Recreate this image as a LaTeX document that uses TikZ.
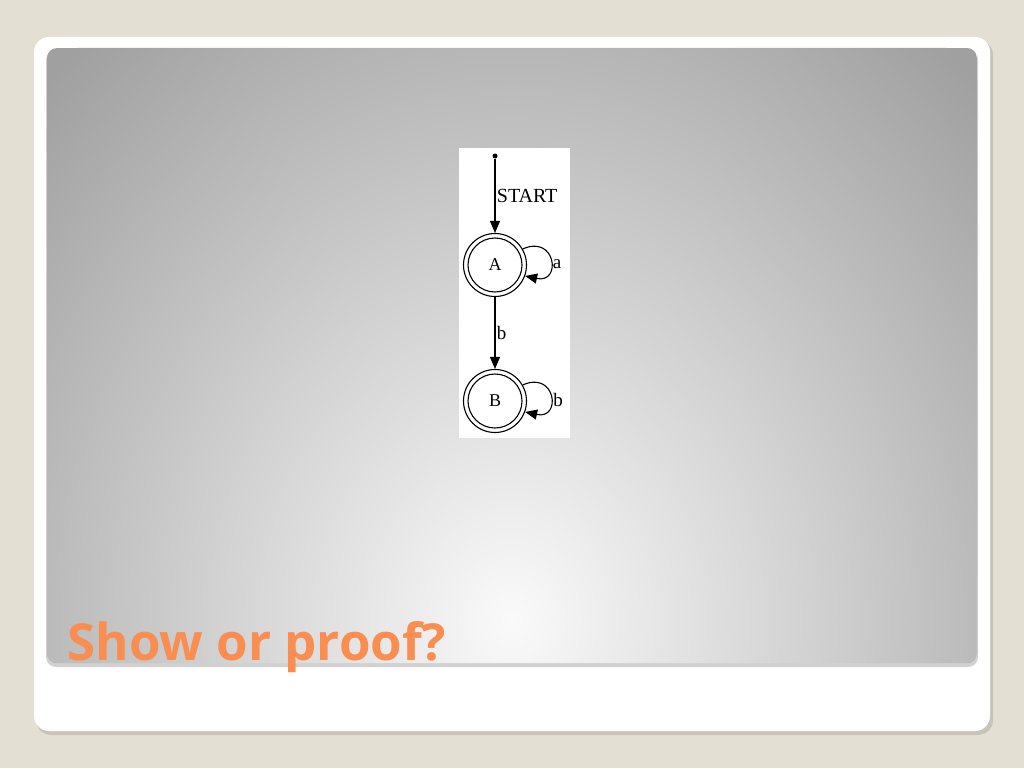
\documentclass[tikz,border=0pt]{standalone}
\usepackage{fontspec}
\setmainfont{Liberation Serif}
\newfontfamily\titlefont{Open Sans}
\usetikzlibrary{arrows.meta}
\definecolor{pagecolor}{RGB}{227,224,211}
\definecolor{panelgray}{RGB}{160,160,160}
\definecolor{titleorange}{RGB}{250,141,80}
\begin{document}
\begin{tikzpicture}[x=1pt,y=-1pt,>={Triangle[length=12pt,width=10pt]},line width=1.1pt]
\useasboundingbox (0,0) rectangle (1024,768);
\fill[pagecolor] (0,0) rectangle (1024,768);
% card and panel
\fill[black,opacity=0.12,rounded corners=15pt] (36,40) rectangle (993,735);
\fill[white,rounded corners=15pt] (34,37) rectangle (990,731);
\fill[black,opacity=0.18,rounded corners=10pt] (46,50) rectangle (978,667);
\begin{scope}
\clip[rounded corners=10pt] (47,48) rectangle (977,663);
\fill[panelgray] (47,48) rectangle (977,663);
\shade[inner color=white!96!gray,outer color=panelgray] (512,620) ellipse (660 and 760);
\end{scope}
% automaton
\fill[white] (459,148) rectangle (570,438);
\node[circle,fill=black,inner sep=0pt,minimum size=5pt] (start) at (495,156) {};
\node[circle,draw,minimum size=63pt,inner sep=0pt] (A) at (495,265) {};
\node[circle,draw,minimum size=54pt,inner sep=0pt,font=\fontsize{18}{18}\selectfont] (Ain) at (495,265) {A};
\node[circle,draw,minimum size=63pt,inner sep=0pt] (B) at (495,401) {};
\node[circle,draw,minimum size=54pt,inner sep=0pt,font=\fontsize{18}{18}\selectfont] (Bin) at (495,401) {B};
\draw[->] (start) -- node[right,xshift=-2pt,font=\fontsize{20}{20}\selectfont] {START} (A);
\draw[->] (A) -- node[right,xshift=-2pt,font=\fontsize{19}{19}\selectfont] {b} (B);
\draw[->] (A.30) .. controls (556,234) and (562,284) .. (A.-20);
\draw[->] (B.30) .. controls (556,370) and (562,420) .. (B.-20);
\node[font=\fontsize{19}{19}\selectfont] (la) at (557,264) {a};
\node[font=\fontsize{19}{19}\selectfont] (lb) at (558,400) {b};
% title
\node[anchor=base west,inner sep=0pt,text=titleorange,font=\titlefont\bfseries\fontsize{51}{51}\selectfont] (title) at (67,660) {Show or proof?};
\end{tikzpicture}
\end{document}
